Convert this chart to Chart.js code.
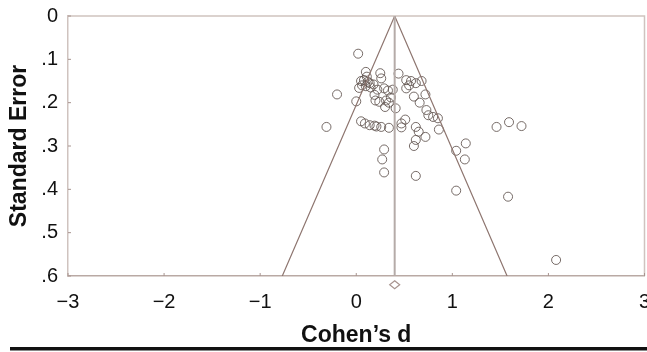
<!DOCTYPE html>
<html>
<head>
<meta charset="utf-8">
<script src="https://cdn.jsdelivr.net/npm/chart.js@4.4.1/dist/chart.umd.min.js"></script>
<style>
html,body{margin:0;padding:0;background:#fff;overflow:hidden;width:647px;height:352px;}
canvas{display:block;}
</style>
</head>
<body>
<canvas id="c" width="650" height="352"></canvas>
<script>
// Study effect sizes (Cohen's d) and their standard errors
const cohensD = [0.02,-0.20,-0.31,0.44,0.10,0.11,0.25,0.26,0.05,0.08,0.12,0.14,0.06,0.10,0.15,0.03,0.18,0.22,0.00,0.19,0.20,0.24,0.29,0.33,0.38,0.31,0.34,0.36,0.41,0.30,0.52,0.57,0.62,0.68,0.52,0.72,0.60,0.66,0.73,0.75,0.80,0.85,0.86,0.05,0.09,0.14,0.19,0.21,0.26,0.34,0.47,0.51,0.47,0.62,0.65,0.72,0.62,0.29,0.27,0.29,0.60,0.62,1.04,1.04,1.14,1.13,1.46,1.59,1.72,1.58,2.08,0.55];
const stdErr  = [0.087,0.181,0.256,0.133,0.129,0.140,0.132,0.144,0.150,0.148,0.152,0.155,0.160,0.162,0.165,0.166,0.158,0.170,0.197,0.182,0.195,0.198,0.167,0.172,0.170,0.195,0.200,0.188,0.213,0.210,0.148,0.150,0.155,0.150,0.167,0.181,0.186,0.200,0.217,0.229,0.233,0.236,0.262,0.243,0.248,0.252,0.253,0.255,0.256,0.258,0.248,0.239,0.257,0.256,0.267,0.279,0.286,0.308,0.331,0.361,0.300,0.369,0.311,0.403,0.294,0.331,0.256,0.245,0.254,0.417,0.563,0.160];
// Pooled estimate and funnel limits
const pooledD = [0.40, 0.40];
const pooledSE = [0.0, 0.6];
const funnelD = [-0.77, 0.40, 1.57];
const funnelSE = [0.6, 0.0, 0.6];
const summaryD = [0.40];
const summarySE = [0.62];
// Tick labels
const xTickLabels = ['\u22123','\u22122','\u22121','0','1','2','3'];
const xTickValues = [-3,-2,-1,0,1,2,3];
const yTickLabels = ['0','.1','.2','.3','.4','.5','.6'];
const yTickValues = [0,0.1,0.2,0.3,0.4,0.5,0.6];

const zip = (xs, ys) => xs.map((x, i) => ({x: x, y: ys[i]}));
const FONT = "'Liberation Sans', Arial, Helvetica, sans-serif";

const decor = {
  id: 'decor',
  beforeDatasetsDraw(chart) {
    const {ctx, chartArea: a} = chart;
    ctx.save();
    ctx.strokeStyle = '#cfc3bf';
    ctx.lineWidth = 1.5;
    ctx.beginPath();
    ctx.moveTo(a.left, a.top); ctx.lineTo(a.right, a.top); ctx.lineTo(a.right, a.bottom);
    ctx.stroke();
    ctx.restore();
  },
  afterDraw(chart) {
    const {ctx, chartArea: a, scales} = chart;
    ctx.save();
    ctx.strokeStyle = '#a8948f';
    ctx.lineWidth = 1;
    ctx.beginPath();
    xTickValues.forEach(v => {
      const px = scales.x.getPixelForValue(v);
      ctx.moveTo(px, a.bottom); ctx.lineTo(px, a.bottom - 3);
    });
    yTickValues.forEach(v => {
      const py = scales.y.getPixelForValue(v);
      ctx.moveTo(a.left, py); ctx.lineTo(a.left + 3, py);
    });
    ctx.stroke();
    // pooled-effect diamond drawn just below the axis
    ctx.strokeStyle = '#a8948f';
    ctx.lineWidth = 1.2;
    summaryD.forEach((d, i) => {
      const px = scales.x.getPixelForValue(d);
      const py = scales.y.getPixelForValue(summarySE[i]);
      ctx.beginPath();
      ctx.moveTo(px, py - 4); ctx.lineTo(px + 5, py); ctx.lineTo(px, py + 4); ctx.lineTo(px - 5, py); ctx.closePath();
      ctx.stroke();
    });
    ctx.fillStyle = '#111';
    ctx.fillRect(10, 347, 640, 3.5);
    ctx.restore();
  }
};

new Chart(document.getElementById('c'), {
  type: 'scatter',
  data: {
    datasets: [
      {
        type: 'line',
        data: zip(pooledD, pooledSE),
        borderColor: '#b5aba8',
        borderWidth: 2,
        pointRadius: 0,
        fill: false
      },
      {
        type: 'line',
        data: zip(funnelD, funnelSE),
        borderColor: '#8e7670',
        borderWidth: 1.2,
        pointRadius: 0,
        fill: false,
        tension: 0
      },
      {
        data: zip(cohensD, stdErr),
        pointStyle: 'circle',
        pointRadius: 4.5,
        pointBorderWidth: 1,
        borderColor: 'rgba(95,82,78,0.85)',
        backgroundColor: 'rgba(0,0,0,0)'
      }
    ]
  },
  options: {
    responsive: false,
    devicePixelRatio: 1,
    animation: false,
    layout: {padding: {left: 0, top: 16, right: 0, bottom: 0}},
    plugins: {legend: {display: false}, tooltip: {enabled: false}},
    scales: {
      x: {
        type: 'linear',
        min: -3, max: 3,
        afterFit: s => { s.height = 76; s.paddingLeft = 0; s.paddingRight = 0; },
        afterBuildTicks: s => { s.ticks = xTickValues.map(v => ({value: v})); },
        ticks: {
          padding: 14,
          color: '#111',
          font: {family: FONT, size: 20},
          maxRotation: 0,
          callback: (v) => xTickLabels[xTickValues.indexOf(Math.round(v))]
        },
        grid: {display: true, drawOnChartArea: false, drawTicks: false},
        border: {display: true, color: '#b9a9a4', width: 1.5},
        title: {
          display: true,
          text: 'Cohen\u2019s d',
          color: '#111',
          font: {family: FONT, size: 23, weight: 'bold'},
          padding: {top: 0, bottom: 3}
        }
      },
      y: {
        type: 'linear',
        reverse: true,
        min: 0, max: 0.6,
        afterFit: s => { s.width = 68; s.paddingTop = 0; s.paddingBottom = 0; },
        afterBuildTicks: s => { s.ticks = yTickValues.map(v => ({value: v})); },
        ticks: {
          padding: 10,
          color: '#111',
          font: {family: FONT, size: 20},
          callback: (v) => yTickLabels[Math.round(v * 10)]
        },
        grid: {display: true, drawOnChartArea: false, drawTicks: false},
        border: {display: true, color: '#cfc3bf', width: 1.5},
        title: {
          display: true,
          text: 'Standard Error',
          color: '#111',
          font: {family: FONT, size: 23, weight: 'bold'},
          padding: {top: 6, bottom: 0}
        }
      }
    }
  },
  plugins: [decor]
});
</script>
</body>
</html>
